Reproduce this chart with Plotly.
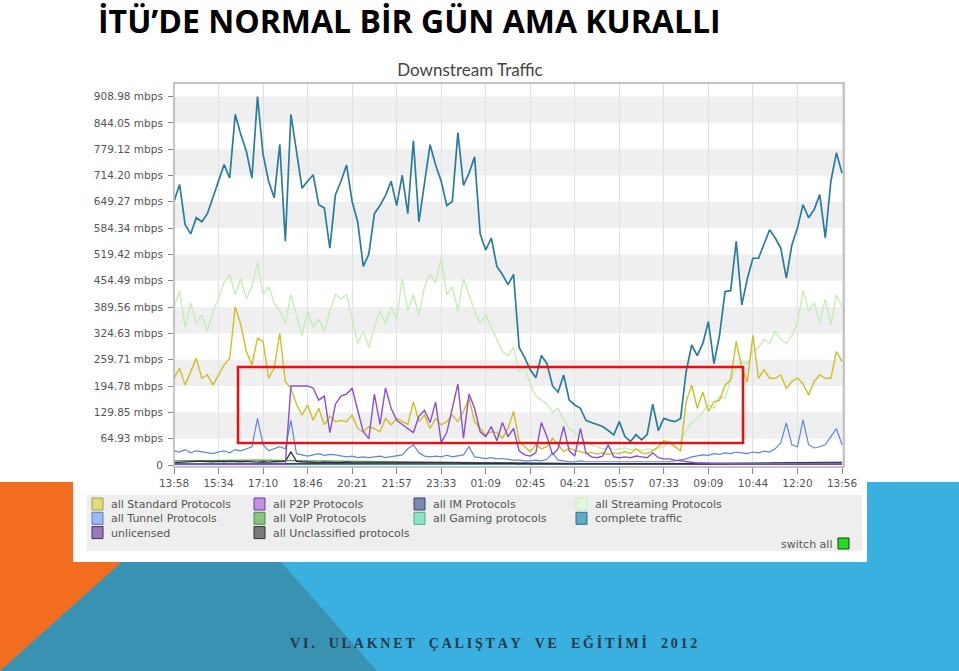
import plotly.graph_objects as go

# ---- data -------------------------------------------------------------
minutes = list(range(0, 1441, 12))          # 12-minute samples, 13:58 -> 13:56
tick_minutes = list(range(0, 1441, 96))
tick_labels = ["13:58", "15:34", "17:10", "18:46", "20:21", "21:57", "23:33", "01:09",
               "02:45", "04:21", "05:57", "07:33", "09:09", "10:44", "12:20", "13:56"]
y_ticks = [0, 64.93, 129.85, 194.78, 259.71, 324.63, 389.56, 454.49, 519.42,
           584.34, 649.27, 714.20, 779.12, 844.05, 908.98]
y_labels = ["0"] + ["%.2f mbps" % v for v in y_ticks[1:]]

complete = [650, 692, 593, 570, 610, 600, 620, 659, 700, 741, 708, 865, 815, 774, 708, 909, 766, 700, 659, 791,
            552, 865, 774, 683, 700, 716, 642, 634, 535, 667, 700, 740, 650, 600, 490, 520, 620, 640, 665, 700,
            640, 715, 620, 800, 600, 700, 790, 740, 700, 640, 650, 820, 690, 720, 760, 570, 530, 560, 490, 470,
            445, 470, 290, 265, 235, 215, 270, 250, 195, 180, 222, 160, 148, 140, 110, 105, 99, 95, 85, 74,
            107, 70, 58, 75, 62, 75, 150, 85, 115, 110, 107, 115, 230, 296, 270, 300, 354, 250, 320, 428,
            430, 552, 395, 460, 510, 510, 545, 580, 560, 535, 461, 543, 585, 642, 610, 630, 667, 560, 700, 770,
            720]
streaming = [390, 430, 340, 400, 350, 370, 330, 380, 410, 450, 470, 420, 460, 410, 440, 500, 420, 440, 400, 380,
             350, 420, 370, 320, 380, 340, 360, 330, 380, 420, 410, 420, 360, 300, 330, 290, 340, 380, 350, 390,
             360, 460, 380, 420, 370, 440, 470, 450, 510, 420, 440, 380, 460, 420, 380, 350, 370, 340, 310, 280,
             270, 290, 230, 240, 200, 170, 160, 150, 130, 140, 110, 90, 80, 70, 55, 50, 45, 40, 42, 38,
             40, 42, 38, 40, 36, 40, 38, 42, 45, 60, 50, 60, 85, 105, 115, 130, 150, 140, 170, 165,
             210, 240, 255, 250, 280, 290, 310, 300, 330, 310, 300, 320, 350, 430, 380, 400, 350, 410, 345, 420,
             390]
standard = [214, 239, 197, 230, 263, 214, 222, 197, 222, 247, 263, 390, 346, 280, 247, 313, 305, 214, 239, 325,
            206, 190, 150, 123, 148, 110, 140, 99, 120, 107, 110, 107, 123, 90, 82, 95, 90, 82, 115, 99,
            115, 107, 100, 156, 107, 123, 90, 115, 99, 107, 123, 107, 132, 165, 107, 90, 74, 82, 80, 66,
            90, 132, 60, 45, 33, 50, 40, 45, 66, 50, 33, 41, 36, 33, 29, 31, 27, 30, 26, 30,
            28, 33, 28, 40, 30, 28, 35, 45, 60, 55, 45, 35, 156, 197, 140, 180, 132, 156, 160, 197,
            210, 305, 240, 205, 320, 214, 235, 214, 214, 222, 189, 206, 215, 200, 173, 206, 222, 214, 214, 280,
            255]
p2p = [2, 2, 2, 2, 2, 2, 2, 2, 2, 2, 2, 2, 2, 2, 2, 2, 2, 2, 2, 2,
       2, 195, 195, 195, 195, 190, 160, 170, 80, 150, 170, 175, 190, 135, 82, 65, 175, 100, 190, 140,
       110, 100, 90, 80, 120, 135, 105, 155, 55, 80, 140, 200, 66, 175, 140, 82, 70, 95, 60, 105,
       70, 90, 35, 25, 22, 30, 105, 70, 25, 40, 95, 35, 22, 90, 30, 20, 18, 22, 50, 20,
       18, 20, 18, 22, 20, 18, 30, 18, 15, 15, 12, 10, 8, 6, 5, 5, 4, 4, 4, 3,
       3, 3, 3, 3, 3, 3, 3, 3, 3, 3, 3, 3, 3, 3, 3, 3, 3, 3, 3, 3,
       3]
tunnel = [35, 32, 38, 30, 35, 33, 30, 28, 32, 35, 30, 38, 35, 40, 45, 115, 50, 35, 40, 45,
          40, 110, 28, 25, 22, 25, 28, 24, 26, 25, 22, 20, 22, 18, 20, 18, 20, 22, 18, 20,
          22, 25, 40, 50, 30, 22, 20, 22, 20, 24, 20, 22, 25, 45, 20, 18, 16, 18, 15, 16,
          14, 12, 12, 10, 10, 12, 10, 14, 30, 12, 10, 8, 8, 10, 8, 8, 7, 8, 8, 7,
          8, 8, 7, 8, 8, 7, 8, 7, 8, 8, 10, 12, 15, 20, 22, 25, 24, 28, 26, 30,
          28, 32, 30, 28, 32, 30, 34, 32, 40, 55, 104, 50, 45, 111, 50, 42, 45, 50, 70, 90,
          50]
unclassified = [6, 7, 8, 8, 9, 9, 8, 8, 9, 8, 9, 8, 8, 9, 8, 7, 8, 7, 8, 8,
                9, 32, 9, 8, 7, 7, 6, 7, 6, 6, 6, 7, 6, 6, 5, 6, 6, 5, 6, 6,
                5, 6, 5, 6, 5, 5, 6, 5, 5, 5, 5, 5, 4, 5, 4, 4, 5, 4, 4, 4,
                4, 4, 3, 4, 3, 3, 4, 3, 3, 3, 3, 3, 3, 3, 3, 3, 3, 3, 3, 3,
                3, 3, 3, 3, 3, 3, 3, 3, 3, 3, 3, 3, 3, 3, 3, 3, 3, 4, 3, 4,
                4, 4, 4, 4, 4, 4, 4, 4, 5, 4, 5, 5, 4, 5, 5, 4, 5, 5, 5, 5,
                5]
voip = [10, 11, 12, 10, 9, 8, 6, 5, 4, 3, 3, 3, 4, 5, 6, 7]
im = [3, 3, 3, 3, 3, 3, 2, 2, 2, 2, 2, 2, 2, 3, 3, 3]
gaming = [1, 1, 1, 1, 1, 1, 1, 1, 1, 1, 1, 1, 1, 1, 1, 2]
unlicensed = [2, 2, 3, 4, 5, 6, 6, 5, 4, 3, 2, 2, 2, 2, 2, 2]

# legend, laid out in columns as in the original dashboard
legend_columns = [["all Standard Protocols", "all Tunnel Protocols", "unlicensed"],
                  ["all P2P Protocols", "all VoIP Protocols", "all Unclassified protocols"],
                  ["all IM Protocols", "all Gaming protocols"],
                  ["all Streaming Protocols", "complete traffic"]]

# ---- styles -----------------------------------------------------------
line_colors = {
    "all Standard Protocols": "#cdbf2a", "all P2P Protocols": "#8b4fd0", "all IM Protocols": "#4a5580",
    "all Streaming Protocols": "#c2edb4", "all Tunnel Protocols": "#5f86dc", "all VoIP Protocols": "#3f9a3f",
    "all Gaming protocols": "#4fcf9f", "complete traffic": "#2a7c9c", "unlicensed": "#5e3090",
    "all Unclassified protocols": "#303030"}
swatch = {
    "all Standard Protocols": ("#e3da88", "#a89d30"), "all P2P Protocols": ("#c28fe3", "#6a3a99"),
    "all IM Protocols": ("#7b88b0", "#3a4466"), "all Streaming Protocols": ("#e4f7dc", "#d0eac6"),
    "all Tunnel Protocols": ("#9db8f0", "#5a7ac0"), "all VoIP Protocols": ("#88c480", "#4a8a44"),
    "all Gaming protocols": ("#8ee3c3", "#50a888"), "complete traffic": ("#62a9c5", "#2c6e88"),
    "unlicensed": ("#9a7ab8", "#4a2a6a"), "all Unclassified protocols": ("#7a7a7a", "#333333")}

FONT = "DejaVu Sans"
FS = 10.5
LEG_FS = 11
L, R, T, B = 174, 844, 83, 467     # chart frame on the slide, px


def px(x):
    return (x - L) / (R - L)


def py(y):
    return (B - y) / (B - T)


def line(x, y, name, width=1.3):
    return go.Scatter(x=x, y=y, name=name, mode="lines", showlegend=False,
                      line=dict(color=line_colors[name], width=width))


data = [line(tick_minutes, gaming, "all Gaming protocols"),
        line(tick_minutes, im, "all IM Protocols"),
        line(tick_minutes, voip, "all VoIP Protocols"),
        line(tick_minutes, unlicensed, "unlicensed"),
        line(minutes, tunnel, "all Tunnel Protocols", 1.2),
        line(minutes, unclassified, "all Unclassified protocols"),
        line(minutes, streaming, "all Streaming Protocols", 1.3),
        line(minutes, standard, "all Standard Protocols", 1.4),
        line(minutes, p2p, "all P2P Protocols", 1.4),
        line(minutes, complete, "complete traffic", 1.7)]

# ---- slide background and chart decorations ---------------------------
shapes = [
    dict(type="rect", xref="paper", yref="paper", x0=px(0), x1=px(959), y0=py(482), y1=py(671),
         fillcolor="#39b0df", line_width=0, layer="below"),
    dict(type="path", xref="paper", yref="paper", layer="below", fillcolor="#f36d21", line_width=0,
         path="M %f %f L %f %f L %f %f Z" % (px(0), py(482), px(211), py(482), px(0), py(671))),
    dict(type="path", xref="paper", yref="paper", layer="below", fillcolor="#3a92b3", line_width=0,
         path="M %f %f L %f %f L %f %f Z" % (px(211), py(482), px(377), py(671), px(0), py(671))),
    dict(type="rect", xref="paper", yref="paper", x0=px(73), x1=px(867), y0=py(42), y1=py(562),
         fillcolor="white", line_width=0, layer="below"),
    dict(type="rect", xref="paper", yref="paper", x0=px(87), x1=px(862), y0=py(495), y1=py(551),
         fillcolor="#eeeeee", line_width=0, layer="below"),
]
for lo, hi in zip(y_ticks[1::2], y_ticks[2::2]):
    shapes.append(dict(type="rect", xref="paper", yref="y", x0=0, x1=1, y0=lo, y1=hi,
                       fillcolor="#efefef", line_width=0, layer="below"))
shapes.append(dict(type="rect", xref="paper", yref="paper", x0=0, x1=1, y0=0, y1=1,
                   line=dict(color="#b3b3b3", width=1.5), layer="above"))
shapes.append(dict(type="rect", xref="paper", yref="paper", x0=px(238), x1=px(743), y0=py(443), y1=py(367),
                   line=dict(color="#e81010", width=2.5), layer="above"))

annotations = []
row_h = LEG_FS * 1.3
for tx, names in zip([110, 272, 432, 594], legend_columns):
    for r, name in enumerate(names):
        ty = 504 + r * row_h
        fill, edge = swatch[name]
        shapes.append(dict(type="rect", xref="paper", yref="paper", x0=px(tx - 18), x1=px(tx - 7),
                           y0=py(ty - 6), y1=py(ty + 6), fillcolor=fill, line=dict(color=edge, width=1)))
    annotations.append(dict(text="<br>".join(names), x=px(tx - 1), y=py(504 - row_h / 2 - 1),
                            xref="paper", yref="paper", showarrow=False, align="left",
                            xanchor="left", yanchor="top", font=dict(family=FONT, size=LEG_FS, color="#555")))

shapes.append(dict(type="rect", xref="paper", yref="paper", x0=px(838), x1=px(849), y0=py(538), y1=py(549),
                   fillcolor="#22dd22", line=dict(color="#114411", width=1)))
annotations.append(dict(text="switch all", x=px(834), y=py(544), xref="paper", yref="paper", showarrow=False,
                        xanchor="right", yanchor="middle", font=dict(family=FONT, size=LEG_FS, color="#555")))
annotations.append(dict(text="İTÜ’DE NORMAL BİR GÜN AMA KURALLI", x=px(96), y=py(20), xref="paper", yref="paper",
                        showarrow=False, xanchor="left", yanchor="middle",
                        font=dict(family="Open Sans", size=32, color="black", weight="bold")))
footer = "\u2002\u2002".join("\u2009".join(w) for w in "VI. ULAKNET ÇALIŞTAY VE EĞİTİMİ 2012".split())
annotations.append(dict(text=footer, x=px(493), y=py(643), xref="paper", yref="paper", showarrow=False,
                        xanchor="center", yanchor="middle",
                        font=dict(family="Liberation Serif", size=14, color="#22384a", weight="bold")))

tickfont = dict(family=FONT, size=FS, color="#555")
layout = go.Layout(
    width=959, height=671,
    margin=dict(l=L, r=959 - R, t=T, b=671 - B),
    paper_bgcolor="white", plot_bgcolor="rgba(0,0,0,0)",
    title=dict(text="Downstream Traffic", x=470 / 959, y=1 - 70 / 671, xanchor="center", yanchor="middle",
               font=dict(family="Lato", size=17, color="#444")),
    xaxis=dict(range=[0, (R - L) / 0.463889], tickvals=tick_minutes, ticktext=tick_labels,
               ticks="outside", ticklen=6, tickcolor="#888", showgrid=True, gridcolor="#e2e2e2",
               zeroline=False, showline=False, tickfont=tickfont),
    yaxis=dict(range=[-4.93, 942.3], tickvals=y_ticks, ticktext=y_labels, ticks="outside", ticklen=5,
               tickcolor="#888", showgrid=False, zeroline=False, showline=False, tickfont=tickfont,
               ticklabelstandoff=3),
    shapes=shapes, annotations=annotations, showlegend=False, hovermode="closest")

fig = go.Figure(data=data, layout=layout)
# the page's default 8px body margin would shift the slide; drop it
fig.write_html("out.html", config={"displayModeBar": False},
               post_script="document.body.style.margin = '0px';")
